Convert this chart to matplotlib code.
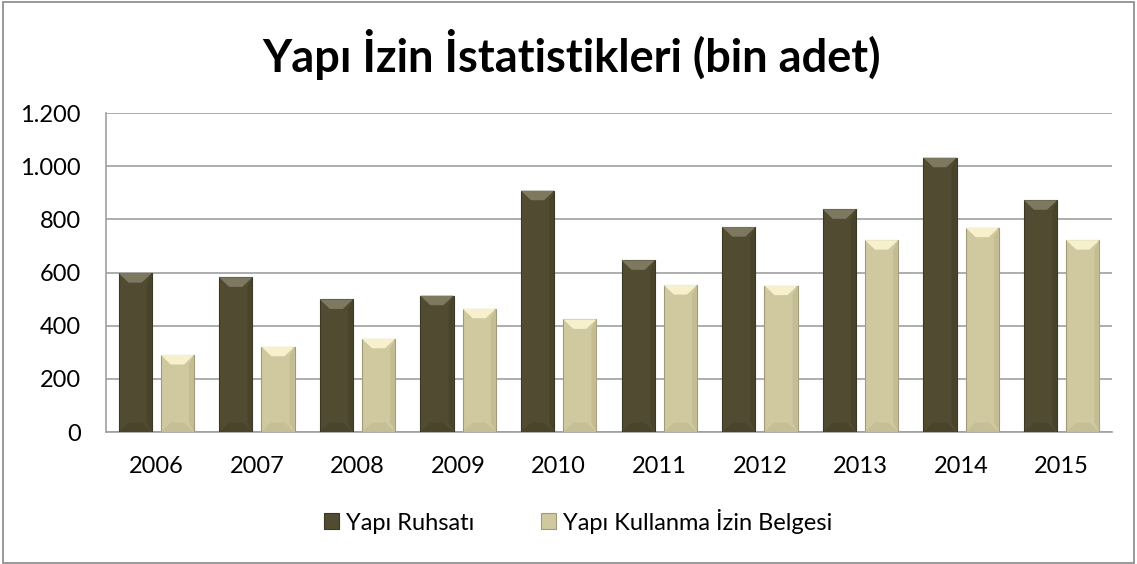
import matplotlib
matplotlib.use('Agg')
import matplotlib.pyplot as plt
import numpy as np
from matplotlib.patches import Polygon, Rectangle
from matplotlib.ticker import FuncFormatter

years = ['2006', '2007', '2008', '2009', '2010', '2011', '2012', '2013', '2014', '2015']
ruhsat = [598, 582, 499, 513, 908, 646, 771, 838, 1032, 872]
kullanma = [290, 321, 351, 464, 424, 553, 551, 722, 769, 722]
labels = ['Yapı Ruhsatı', 'Yapı Kullanma İzin Belgesi']

plt.rcParams['font.family'] = ['Lato', 'DejaVu Sans']

dark = '#514c31'
dark_top = '#7d7860'
dark_edge = '#3a3724'
light = '#d0c9a0'
light_top = '#f6f1cc'
light_edge = '#9f9a78'

fig = plt.figure(figsize=(11.37, 5.64), dpi=100)
ax = fig.add_axes([0.0932, 0.234, 0.978 - 0.0932, 0.7996 - 0.234])

x = np.arange(len(years))
width = 0.33
off = 0.21
b1 = ax.bar(x - off, ruhsat, width, color=dark, edgecolor=dark_edge, linewidth=0.8, label=labels[0], zorder=3)
b2 = ax.bar(x + off, kullanma, width, color=light, edgecolor=light_edge, linewidth=0.8, label=labels[1], zorder=3)

# bevel on each bar
dx = 0.1
dy = 36
for bars, top_c, side_c in [(b1, dark_top, '#45412a'), (b2, light_top, '#bfb890')]:
    for r in bars:
        x0 = r.get_x()
        x1 = x0 + r.get_width()
        h = r.get_height()
        ax.add_patch(Polygon([[x0, h], [x1, h], [x1 - dx, h - dy], [x0 + dx, h - dy]],
                             closed=True, facecolor=top_c, edgecolor='none', zorder=4))
        ax.add_patch(Polygon([[x0, 0], [x1, 0], [x1 - dx, dy], [x0 + dx, dy]],
                             closed=True, facecolor=side_c, edgecolor='none', zorder=4, alpha=0.6))
        ax.add_patch(Polygon([[x1, 0], [x1, h], [x1 - dx * 0.5, h - dy], [x1 - dx * 0.5, dy]],
                             closed=True, facecolor=side_c, edgecolor='none', zorder=4, alpha=0.7))

ax.set_xlim(-0.5, len(years) - 0.5)
ax.set_ylim(0, 1200)
ax.set_yticks(np.arange(0, 1201, 200))
ax.yaxis.set_major_formatter(FuncFormatter(lambda v, p: f'{int(v):,}'.replace(',', '.')))
ax.set_xticks(x)
ax.set_xticklabels(years)
ax.tick_params(axis='both', length=0, labelsize=17, colors='black')
ax.tick_params(axis='x', pad=17)
ax.tick_params(axis='y', pad=18)
ax.grid(axis='y', color='#a0a0a0', linewidth=1.2, zorder=0)
for s in ['top', 'right']:
    ax.spines[s].set_visible(False)
for s in ['left', 'bottom']:
    ax.spines[s].set_color('#a0a0a0')
    ax.spines[s].set_linewidth(1.2)

fig.text(0.503, 1 - 55 / 564, 'Yapı İzin İstatistikleri (bin adet)', ha='center', va='center',
         fontsize=32.5, fontweight='bold')

fig.legend(handles=[b1, b2], labels=labels, loc='center', bbox_to_anchor=(578 / 1137, 1 - 521 / 564),
           ncol=2, frameon=False, fontsize=17, handlelength=0.65, handleheight=0.65,
           handletextpad=0.3, columnspacing=2.8)

fig.add_artist(Rectangle((3 / 1137, 1 / 564), 1131 / 1137, 561 / 564, transform=fig.transFigure,
                         fill=False, edgecolor='#888888', linewidth=1.2))

fig.savefig('out.png', dpi=100)
